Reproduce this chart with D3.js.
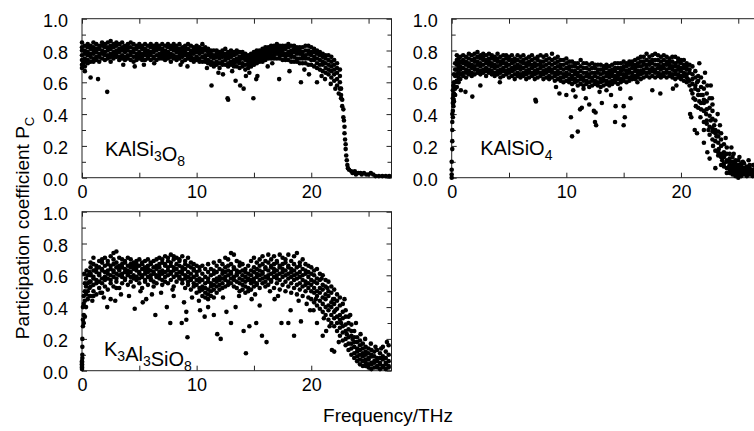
<!DOCTYPE html>
<html>
<head>
<meta charset="utf-8">
<script src="https://cdn.jsdelivr.net/npm/d3@7"></script>
<style>
  body { margin: 0; background: #fff; }
  text { font-family: "Liberation Sans", Arial, Helvetica, sans-serif; fill: #000; }
</style>
</head>
<body>
<svg id="chart" width="754" height="431"></svg>
<script>
// frequency (THz) followed by the participation coefficients read in that column
const kalsi3o8Band = [
  [0, .85,.82,.80,.77,.74,.71,.69], [0.25, .83,.80,.78,.75,.73,.70,.67], [0.5, .84,.82,.79,.77,.74,.72],
  [0.75, .83,.81,.78,.76,.73], [1, .85,.82,.80,.78,.75,.73], [1.25, .84,.81,.79,.76,.74],
  [1.5, .83,.81,.78,.76,.73], [1.75, .85,.83,.80,.78,.75], [2, .84,.82,.79,.77,.74],
  [2.25, .85,.82,.80,.77,.75], [2.5, .86,.83,.81,.78,.76,.73], [2.75, .84,.82,.79,.77,.75],
  [3, .85,.83,.80,.78,.76], [3.25, .84,.81,.79,.76,.74], [3.5, .85,.82,.80,.77,.75],
  [3.75, .83,.81,.79,.76,.74], [4, .84,.82,.80,.77,.75], [4.25, .85,.82,.79,.77,.74],
  [4.5, .84,.81,.79,.76,.73], [4.75, .83,.81,.78,.76,.74], [5, .84,.82,.79,.77,.75],
  [5.25, .83,.81,.78,.76,.74], [5.5, .84,.81,.79,.77,.74], [5.75, .83,.80,.78,.76,.75],
  [6, .84,.82,.79,.77,.74], [6.25, .83,.81,.79,.76,.75], [6.5, .84,.82,.80,.77,.74],
  [6.75, .83,.81,.78,.76,.75], [7, .84,.81,.79,.77,.75], [7.25, .83,.80,.78,.76,.74],
  [7.5, .84,.82,.79,.77,.75], [7.75, .83,.81,.78,.76,.73], [8, .84,.82,.80,.77,.75],
  [8.25, .83,.81,.79,.76,.74], [8.5, .84,.81,.79,.77,.75], [8.75, .82,.80,.78,.76,.73],
  [9, .83,.81,.79,.77,.74], [9.25, .84,.81,.78,.76,.75], [9.5, .83,.80,.78,.76,.74],
  [9.75, .82,.80,.78,.75,.73], [10, .83,.81,.79,.76,.74], [10.25, .82,.80,.78,.75,.73],
  [10.5, .84,.81,.79,.76,.73], [10.75, .82,.80,.77,.75,.73], [11, .81,.79,.77,.74,.72],
  [11.25, .80,.78,.76,.73,.71], [11.5, .80,.77,.75,.72,.70], [11.75, .80,.78,.76,.73,.71],
  [12, .79,.77,.75,.72,.69], [12.25, .80,.78,.76,.73,.71], [12.5, .81,.78,.76,.74,.71],
  [12.75, .79,.77,.75,.72,.70], [13, .80,.78,.76,.73,.71], [13.25, .79,.77,.74,.72,.70],
  [13.5, .80,.78,.75,.73,.70], [13.75, .79,.76,.74,.72,.69], [14, .79,.77,.75,.72,.70],
  [14.25, .78,.76,.74,.71,.68], [14.5, .77,.75,.73,.71,.69], [14.75, .78,.76,.74,.72,.70],
  [15, .79,.77,.75,.73,.71], [15.25, .80,.78,.76,.74,.72], [15.5, .80,.78,.76,.75,.73],
  [15.75, .81,.79,.77,.75,.73], [16, .82,.80,.78,.76,.74], [16.25, .82,.80,.78,.77,.75],
  [16.5, .83,.81,.79,.77,.75], [16.75, .83,.81,.79,.77,.75], [17, .84,.82,.80,.78,.75],
  [17.25, .83,.81,.79,.77,.75], [17.5, .83,.81,.79,.77,.74], [17.75, .83,.81,.78,.76,.74],
  [18, .84,.82,.79,.77,.74], [18.25, .83,.80,.78,.76,.73], [18.5, .83,.81,.79,.76,.73],
  [18.75, .82,.80,.78,.75,.73], [19, .82,.80,.78,.75,.72], [19.25, .82,.79,.77,.75,.72],
  [19.5, .83,.80,.77,.75,.72], [19.75, .83,.80,.78,.75,.71], [20, .82,.79,.77,.74,.71],
  [20.25, .81,.79,.76,.74,.70], [20.5, .80,.78,.75,.72,.69], [20.75, .79,.77,.74,.71,.68],
  [21, .78,.76,.73,.71,.67], [21.25, .77,.75,.72,.69,.66], [21.5, .77,.74,.71,.68,.65],
  [21.75, .76,.73,.70,.67,.63], [22, .74,.71,.68,.65,.61], [22.25, .72,.69,.66,.62,.58],
  [22.5, .68,.64,.60,.56], [22.6, .56,.52,.50], [22.7, .49,.45], [22.8, .43,.38], [22.85, .36],
  [22.9, .32,.28], [22.95, .24], [23, .21,.18], [23.05, .14], [23.1, .11], [23.15, .08], [23.2, .06]
];
const kalsi3o8Sparse = [
  [0.75,.63],[1.4,.62],[2.2,.54],[3.6,.71],[4.6,.70],[5.4,.71],[6.3,.72],[8.6,.71],[9.2,.70],
  [11.3,.58],[11.9,.66],[12.3,.65],[12.7,.50],[12.75,.49],[13.4,.61],[13.8,.58],[14.1,.56],
  [14.3,.64],[14.6,.66],[14.95,.50],[15.2,.62],[15.3,.64],[16.2,.70],[17.2,.62],[18.1,.67],
  [19.1,.60],[19.8,.65],[20.5,.60],[21.2,.62],[21.7,.59],[0.1,.72],[10.9,.69],[13.1,.67],
  [16.6,.72],[19.4,.68],[20.9,.64],[22.1,.56],[22.4,.53],
  [23.3,.05],[23.5,.04],[23.6,.03],[23.8,.04],[23.9,.02],[24.1,.03],[24.3,.03],[24.4,.02],
  [24.6,.03],[24.8,.02],[25,.02],[25.2,.03],[25.4,.02],[25.6,.01],[25.9,.01],[26.2,.01],
  [26.5,.01],[26.8,.01]
];

const kalsio4Band = [
  [0, .00,.02,.05,.10], [0.05, .18,.23,.30,.35,.40], [0.1, .38,.42,.47,.50,.55],
  [0.15, .45,.49,.52,.58], [0.2, .48,.53,.57,.60,.65], [0.3, .52,.56,.60,.64,.68,.72],
  [0.45, .57,.61,.65,.68,.71,.74,.77], [0.6, .60,.63,.66,.69,.72,.75],
  [0.75, .62,.65,.68,.70,.73,.76], [1, .64,.66,.69,.72,.74,.77], [1.25, .63,.66,.68,.71,.73,.76],
  [1.5, .65,.67,.70,.72,.75,.78], [1.75, .64,.66,.69,.71,.74,.77], [2, .65,.68,.70,.73,.75,.78],
  [2.25, .66,.68,.71,.73,.76,.79], [2.5, .65,.67,.70,.72,.75,.77], [2.75, .66,.68,.71,.74,.76,.78],
  [3, .64,.67,.69,.72,.74,.77], [3.25, .66,.68,.71,.73,.75,.78], [3.5, .65,.67,.70,.72,.75,.77],
  [3.75, .64,.66,.69,.71,.74,.76], [4, .65,.67,.70,.73,.75,.78], [4.25, .63,.66,.68,.71,.73,.76],
  [4.5, .64,.67,.69,.72,.74,.77], [4.75, .65,.67,.70,.72,.75,.77], [5, .63,.66,.68,.71,.74,.76],
  [5.25, .64,.67,.69,.72,.74,.77], [5.5, .62,.65,.68,.70,.73,.75], [5.75, .64,.66,.69,.71,.74,.77],
  [6, .63,.65,.68,.70,.73,.76], [6.25, .64,.66,.69,.72,.74,.77], [6.5, .62,.65,.67,.70,.72,.75],
  [6.75, .63,.66,.68,.71,.73,.76], [7, .64,.66,.69,.71,.74,.77], [7.25, .62,.65,.67,.70,.72,.75],
  [7.5, .63,.66,.68,.71,.74,.76], [7.75, .64,.66,.69,.71,.73,.77], [8, .62,.65,.67,.70,.73,.76],
  [8.25, .63,.66,.68,.71,.74,.77], [8.5, .62,.64,.67,.69,.72,.75], [8.75, .63,.66,.68,.71,.74,.78],
  [9, .61,.64,.66,.69,.72,.75], [9.25, .62,.65,.67,.70,.73,.76], [9.5, .61,.63,.66,.69,.71,.74],
  [9.75, .60,.63,.65,.68,.71,.74], [10, .61,.64,.66,.69,.72,.75], [10.25, .60,.62,.65,.68,.70,.73],
  [10.5, .59,.62,.64,.67,.70,.73], [10.75, .60,.62,.65,.67,.70,.72], [11, .58,.61,.64,.66,.69,.72],
  [11.25, .59,.62,.64,.67,.70,.74], [11.5, .58,.61,.63,.66,.69,.72], [11.75, .59,.61,.64,.66,.69,.72],
  [12, .57,.60,.63,.65,.68,.71], [12.25, .58,.61,.63,.66,.69,.72], [12.5, .59,.61,.64,.66,.69,.71],
  [12.75, .58,.60,.63,.66,.68,.71], [13, .57,.60,.62,.65,.68,.71], [13.25, .58,.61,.63,.66,.68,.70],
  [13.5, .59,.61,.64,.66,.69,.71], [13.75, .58,.60,.63,.65,.67,.70], [14, .59,.61,.64,.66,.68,.71],
  [14.25, .60,.62,.64,.67,.69,.72], [14.5, .59,.62,.64,.66,.69,.72], [14.75, .60,.62,.65,.67,.69,.72],
  [15, .61,.63,.65,.68,.70,.73], [15.25, .60,.63,.65,.67,.70,.72], [15.5, .61,.63,.66,.68,.71,.73],
  [15.75, .62,.64,.66,.69,.71,.73], [16, .62,.64,.67,.69,.71,.74], [16.25, .63,.65,.67,.70,.72,.75],
  [16.5, .62,.65,.67,.70,.73,.76], [16.75, .63,.66,.68,.71,.73,.76], [17, .64,.66,.69,.71,.74,.78],
  [17.25, .63,.66,.68,.71,.73,.76], [17.5, .64,.67,.69,.72,.74,.77], [17.75, .63,.66,.68,.71,.74,.78],
  [18, .64,.66,.69,.71,.74,.77], [18.25, .63,.65,.68,.70,.73,.76], [18.5, .64,.66,.69,.71,.74,.77],
  [18.75, .63,.66,.68,.71,.73,.76], [19, .64,.66,.69,.71,.73,.75], [19.25, .63,.65,.68,.70,.73,.76],
  [19.5, .62,.65,.67,.70,.72,.76], [19.75, .63,.65,.68,.70,.73,.75], [20, .62,.64,.67,.69,.72,.74],
  [20.25, .61,.64,.66,.69,.71,.74], [20.5, .60,.63,.65,.68,.70,.72], [20.75, .58,.61,.66,.68,.71],
  [21, .53,.59,.62,.65,.70], [21.25, .49,.56,.58,.63,.67], [21.5, .44,.52,.55,.61,.64],
  [21.75, .43,.47,.52,.57,.63], [22, .35,.42,.47,.49,.56,.60], [22.25, .34,.36,.43,.48,.53],
  [22.5, .27,.32,.39,.44,.50], [22.75, .24,.29,.31,.37,.42,.46], [23, .17,.23,.28,.30,.36],
  [23.25, .14,.16,.22,.26,.29], [23.5, .08,.13,.15,.20,.24], [23.75, .07,.09,.13,.16,.21],
  [24, .03,.06,.10,.11,.15], [24.25, .03,.05,.08,.10,.12,.15], [24.5, .02,.04,.06,.08,.10,.13],
  [24.75, .01,.03,.05,.07,.09,.11], [25, .00,.02,.04,.06,.08,.11], [25.25, .01,.03,.05,.07,.09],
  [25.5, .02,.04,.06,.09], [25.75, .01,.03,.05,.07], [26, .02,.04,.06,.08], [26.25, .01,.03,.05],
  [26.5, .02,.04,.06], [26.75, .03,.05]
];
const kalsio4Sparse = [
  [0.8,.55],[1.2,.54],[1.8,.51],[2.5,.58],[4.2,.60],[7.3,.49],[7.35,.48],[9.4,.53],[10,.52],
  [10.4,.38],[10.5,.26],[11,.29],[11.2,.43],[11.35,.44],[11.7,.50],[12,.46],[12.4,.42],
  [12.55,.41],[12.5,.35],[12.6,.33],[13.1,.47],[13.5,.55],[13.9,.52],[14.3,.45],[14.25,.35],
  [15,.45],[15.1,.38],[15,.33],[15.6,.50],[11.5,.56],[10.8,.51],[16.2,.60],[17.5,.55],
  [18.2,.53],[19.3,.56],[19.6,.58],[20.8,.40],[20.9,.38],[21.2,.30],[21.4,.28],[22,.22],
  [22.3,.16],[22.5,.12],[23,.06],[21.6,.72],[22.1,.66],[22.6,.58],[9.1,.57],[12.9,.54],
  [14.7,.56],[10.6,.55],[23.4,.33],[23.9,.25],[24.4,.19],
  [20.6,.62],[20.9,.55],[21.1,.50],[21.3,.45],[21.4,.60],[21.6,.48],[21.7,.38],[21.9,.52],
  [22,.30],[22.2,.40],[22.3,.58],[22.4,.30],[22.6,.36],[22.7,.50],[22.8,.20],[22.9,.33],
  [23.1,.26],[23.2,.40],[23.3,.18],[23.5,.28],[23.6,.11],[23.8,.14],[24,.19],[24.2,.07],
  [24.6,.15],[25.1,.13],[25.4,.10],[25.9,.11],[26.3,.08],[26.6,.10]
];

const k3al3sio8Band = [
  [0, .01,.02,.03,.04,.05,.06], [0.03, .08,.10,.15,.20], [0.08, .28,.32,.40],
  [0.15, .30,.35,.42,.47], [0.25, .34,.44,.50,.55], [0.35, .40,.48,.53,.58],
  [0.5, .45,.50,.55,.60], [0.65, .47,.52,.56,.62], [0.75, .47,.53,.56,.60,.61,.65,.68],
  [1, .50,.54,.58,.59,.63,.67,.71], [1.25, .48,.55,.57,.62,.64,.66], [1.5, .52,.56,.60,.61,.65,.69],
  [1.75, .49,.55,.58,.63,.64,.68,.70], [2, .53,.57,.59,.62,.66,.71], [2.25, .51,.58,.61,.63,.67,.69],
  [2.5, .55,.57,.60,.64,.66,.72], [2.75, .53,.59,.62,.63,.67,.70,.74], [3, .56,.58,.61,.65,.68,.75],
  [3.25, .52,.60,.63,.64,.66,.71], [3.5, .55,.59,.61,.65,.67,.70], [3.75, .57,.58,.62,.64,.68,.69],
  [4, .54,.60,.61,.63,.66,.71], [4.25, .56,.59,.62,.65,.67,.70], [4.5, .53,.58,.60,.64,.66,.68],
  [4.75, .57,.59,.63,.65,.67,.69], [5, .55,.58,.61,.62,.66,.70], [5.25, .52,.59,.60,.64,.67,.68],
  [5.5, .56,.57,.61,.63,.65,.69], [5.75, .54,.59,.62,.64,.66,.70], [6, .57,.58,.60,.63,.67,.68],
  [6.25, .53,.56,.61,.62,.65,.69], [6.5, .55,.59,.60,.64,.66,.70], [6.75, .58,.60,.62,.65,.67,.71],
  [7, .54,.57,.61,.63,.68,.70], [7.25, .56,.59,.62,.66,.67,.72], [7.5, .55,.60,.63,.65,.69,.71],
  [7.75, .57,.61,.62,.66,.68,.73], [8, .53,.59,.63,.65,.70,.72], [8.25, .56,.60,.61,.64,.67,.71],
  [8.5, .58,.59,.62,.66,.69,.70], [8.75, .55,.57,.61,.63,.65,.72], [9, .52,.58,.60,.64,.67,.69],
  [9.25, .54,.56,.59,.62,.66,.71], [9.5, .51,.57,.58,.61,.65,.68], [9.75, .53,.55,.59,.63,.64,.67],
  [10, .49,.54,.57,.60,.62,.66], [10.25, .50,.52,.56,.58,.63,.65], [10.5, .47,.51,.53,.57,.61,.66],
  [10.75, .46,.49,.52,.55,.59,.64], [11, .45,.48,.51,.56,.58,.62,.67], [11.25, .47,.50,.53,.55,.60,.64],
  [11.5, .46,.51,.54,.57,.61,.63,.68], [11.75, .49,.53,.56,.58,.62,.66], [12, .51,.54,.57,.59,.64,.69],
  [12.25, .52,.55,.58,.61,.63,.67], [12.5, .53,.57,.59,.62,.65,.71], [12.75, .54,.56,.60,.63,.66,.70],
  [13, .55,.58,.61,.62,.67,.74], [13.25, .53,.57,.59,.64,.65,.73], [13.5, .52,.56,.60,.61,.63,.69],
  [13.75, .50,.55,.58,.62,.66,.68], [14, .51,.54,.57,.60,.63,.67], [14.25, .49,.53,.56,.59,.62,.64],
  [14.5, .50,.52,.57,.58,.61,.66], [14.75, .51,.55,.57,.60,.63,.69], [15, .53,.56,.58,.62,.65,.71],
  [15.25, .54,.55,.59,.61,.64,.68], [15.5, .52,.57,.60,.63,.66,.70], [15.75, .55,.58,.61,.62,.67,.72],
  [16, .53,.56,.59,.64,.65,.69], [16.25, .54,.58,.60,.63,.68,.73], [16.5, .56,.57,.61,.65,.66,.70],
  [16.75, .52,.59,.62,.64,.67,.72], [17, .55,.58,.60,.63,.68,.69], [17.25, .51,.57,.61,.65,.66,.73],
  [17.5, .54,.59,.62,.64,.67,.71], [17.75, .50,.56,.60,.63,.68,.70], [18, .53,.58,.61,.65,.66,.73],
  [18.25, .49,.55,.59,.62,.64,.69], [18.5, .52,.57,.60,.63,.67,.72], [18.75, .48,.54,.58,.61,.65,.74],
  [19, .51,.55,.59,.62,.66,.68], [19.25, .47,.53,.57,.60,.64,.70], [19.5, .50,.54,.56,.61,.63,.67],
  [19.75, .46,.52,.55,.59,.62,.66], [20, .45,.50,.54,.57,.61,.65], [20.25, .43,.49,.52,.56,.60,.63],
  [20.5, .41,.47,.50,.55,.58,.64], [20.75, .39,.44,.49,.52,.57,.61], [21, .37,.42,.46,.51,.54,.60],
  [21.25, .35,.40,.45,.48,.53,.57], [21.5, .32,.38,.41,.47,.50,.56], [21.75, .30,.35,.40,.43,.49,.53],
  [22, .28,.33,.37,.42,.45,.51], [22.25, .25,.30,.34,.39,.44,.48], [22.5, .22,.27,.32,.35,.41,.46],
  [22.75, .19,.24,.28,.33,.37,.42], [23, .16,.20,.25,.29,.34,.38], [23.25, .13,.17,.21,.26,.30,.34],
  [23.5, .10,.14,.17,.22,.25,.29], [23.75, .08,.11,.15,.18,.21,.25], [24, .06,.09,.12,.14,.18,.21],
  [24.25, .04,.07,.10,.13,.16,.19], [24.5, .03,.06,.09,.11,.14,.17], [24.75, .03,.05,.07,.10,.12,.15],
  [25, .02,.04,.07,.08,.11,.14], [25.25, .01,.04,.05,.09,.10,.13], [25.5, .02,.05,.06,.09,.12],
  [25.75, .02,.03,.06,.08,.13], [26, .01,.04,.05,.08,.11], [26.25, .02,.03,.07,.09,.15],
  [26.5, .01,.04,.05,.08,.12], [26.75, .02,.03,.06,.10,.16]
];
const k3al3sio8Sparse = [
  [1,.47],[1.6,.49],[2.2,.40],[2.5,.45],[2.9,.44],[3,.52],[4.6,.39],[5.3,.43],[5.6,.45],
  [6.4,.35],[7.4,.40],[7.7,.30],[8,.47],[8.7,.30],[9.1,.32],[9.2,.21],[9.1,.37],[8.9,.43],
  [10.3,.38],[10.7,.34],[11,.40],[11.5,.35],[11.8,.23],[12.1,.20],[12.6,.37],[13,.30],
  [13.4,.40],[14.3,.11],[14.1,.25],[14.6,.28],[14.8,.45],[15.2,.30],[15.5,.41],[15.7,.22],
  [16.1,.18],[16.8,.45],[17.4,.30],[18,.30],[18.2,.38],[18.5,.22],[19.1,.31],[19.9,.38],
  [20.5,.30],[21,.22],[21.3,.25],[21.6,.28],[21.8,.13],[22,.12],[22.4,.18],[0.2,.61],[0.4,.63],
  [0.9,.44],[1.9,.46],[3.4,.48],[4.1,.47],[5.1,.50],[6.1,.48],[6.9,.49],[7.9,.51],[9.6,.46],
  [10.2,.44],[12.3,.46],[13.7,.47],[15.1,.48],[16.4,.50],[17.1,.47],[18.9,.44],[19.6,.42],[20.2,.38],
  [20.4,.45],[20.9,.58],[21.1,.33],[21.4,.52],[21.9,.45],[22.1,.38],[22.6,.30],[22.9,.45],
  [23.1,.23],[23.4,.35],[23.6,.20],[23.9,.30],[24.3,.23],[24.7,.20],[25.2,.17],[25.6,.15],
  [26.1,.14],[26.6,.18]
];

const xMajorTicks = [0, 10, 20];
const xMinorTicks = [5, 15, 25];
const yMajorTicks = [0, 0.2, 0.4, 0.6, 0.8, 1.0];
const yMinorTicks = [0.1, 0.3, 0.5, 0.7, 0.9];

const panelW = 309.5, panelH = 159;

const panels = [
  {band: kalsi3o8Band, sparse: kalsi3o8Sparse, left: 82, top: 18.7, lx: 23, ly: 137.5,
   label: [["KAlSi", 0], ["3", 1], ["O", 0], ["8", 1]]},
  {band: kalsio4Band, sparse: kalsio4Sparse, left: 451.7, top: 18.7, lx: 28.5, ly: 136.5,
   label: [["KAlSiO", 0], ["4", 1]]},
  {band: k3al3sio8Band, sparse: k3al3sio8Sparse, left: 82, top: 211.7, lx: 22, ly: 144.5,
   label: [["K", 0], ["3", 1], ["Al", 0], ["3", 1], ["SiO", 0], ["8", 1]]}
];

const svg = d3.select("#chart");
const x = d3.scaleLinear().domain([0, 27]).range([0, panelW]);
const y = d3.scaleLinear().domain([0, 1]).range([panelH, 0]);

function writeFormula(text, parts, big, small, shift) {
  parts.forEach(function (p) {
    text.append("tspan")
      .attr("font-size", p[1] ? small : big)
      .attr("dy", p[1] ? shift : 0)
      .text(p[0]);
    if (p[1]) text.append("tspan").attr("dy", -shift).text("");
  });
}

function drawPanel(p) {
  const g = svg.append("g").attr("transform", `translate(${p.left},${p.top})`);

  const points = [];
  p.band.forEach(function (col) {
    for (let i = 1; i < col.length; i += 1) points.push([col[0], col[i]]);
  });
  p.sparse.forEach(function (d) { points.push(d); });

  const axes = [
    [d3.axisBottom(x).tickValues(xMajorTicks).tickSize(-5).tickPadding(7.5), `translate(0,${panelH})`],
    [d3.axisBottom(x).tickValues(xMinorTicks).tickSize(-5).tickFormat(""), `translate(0,${panelH})`],
    [d3.axisTop(x).tickValues(xMajorTicks.concat(xMinorTicks)).tickSize(-5).tickFormat(""), null],
    [d3.axisLeft(y).tickValues(yMajorTicks).tickSize(-5).tickPadding(14).tickFormat(d3.format(".1f")), null],
    [d3.axisLeft(y).tickValues(yMinorTicks).tickSize(-4).tickFormat(""), null],
    [d3.axisRight(y).tickValues(yMajorTicks).tickSize(-5).tickFormat(""), `translate(${panelW},0)`],
    [d3.axisRight(y).tickValues(yMinorTicks).tickSize(-4).tickFormat(""), `translate(${panelW},0)`]
  ];
  axes.forEach(function (a) {
    const ag = g.append("g").call(a[0]);
    if (a[1]) ag.attr("transform", a[1]);
    ag.select(".domain").remove();
    ag.selectAll(".tick line").attr("stroke", "#222");
    ag.selectAll("text").attr("font-size", 18).attr("font-family", null).attr("fill", "#000");
  });
  g.selectAll(".tick text").filter(function () { return this.getAttribute("dy") === "0.32em"; })
    .attr("dy", "0.42em");

  g.append("rect")
    .attr("width", panelW).attr("height", panelH)
    .attr("fill", "none").attr("stroke", "#222").attr("stroke-width", 1);

  g.append("g").selectAll("circle").data(points).join("circle")
    .attr("cx", d => x(d[0])).attr("cy", d => y(d[1]))
    .attr("r", 2.3).attr("fill", "#000");

  const lab = g.append("text").attr("x", p.lx).attr("y", p.ly);
  writeFormula(lab, p.label, 20, 14, 5);
}

panels.forEach(drawPanel);

const yt = svg.append("text")
  .attr("transform", "translate(29,228) rotate(-90)")
  .attr("text-anchor", "middle");
writeFormula(yt, [["Participation coefficient P", 0], ["C", 1]], 19, 13, 5);

svg.append("text")
  .attr("x", 388).attr("y", 421.5)
  .attr("text-anchor", "middle")
  .attr("font-size", 19)
  .text("Frequency/THz");
</script>
</body>
</html>
